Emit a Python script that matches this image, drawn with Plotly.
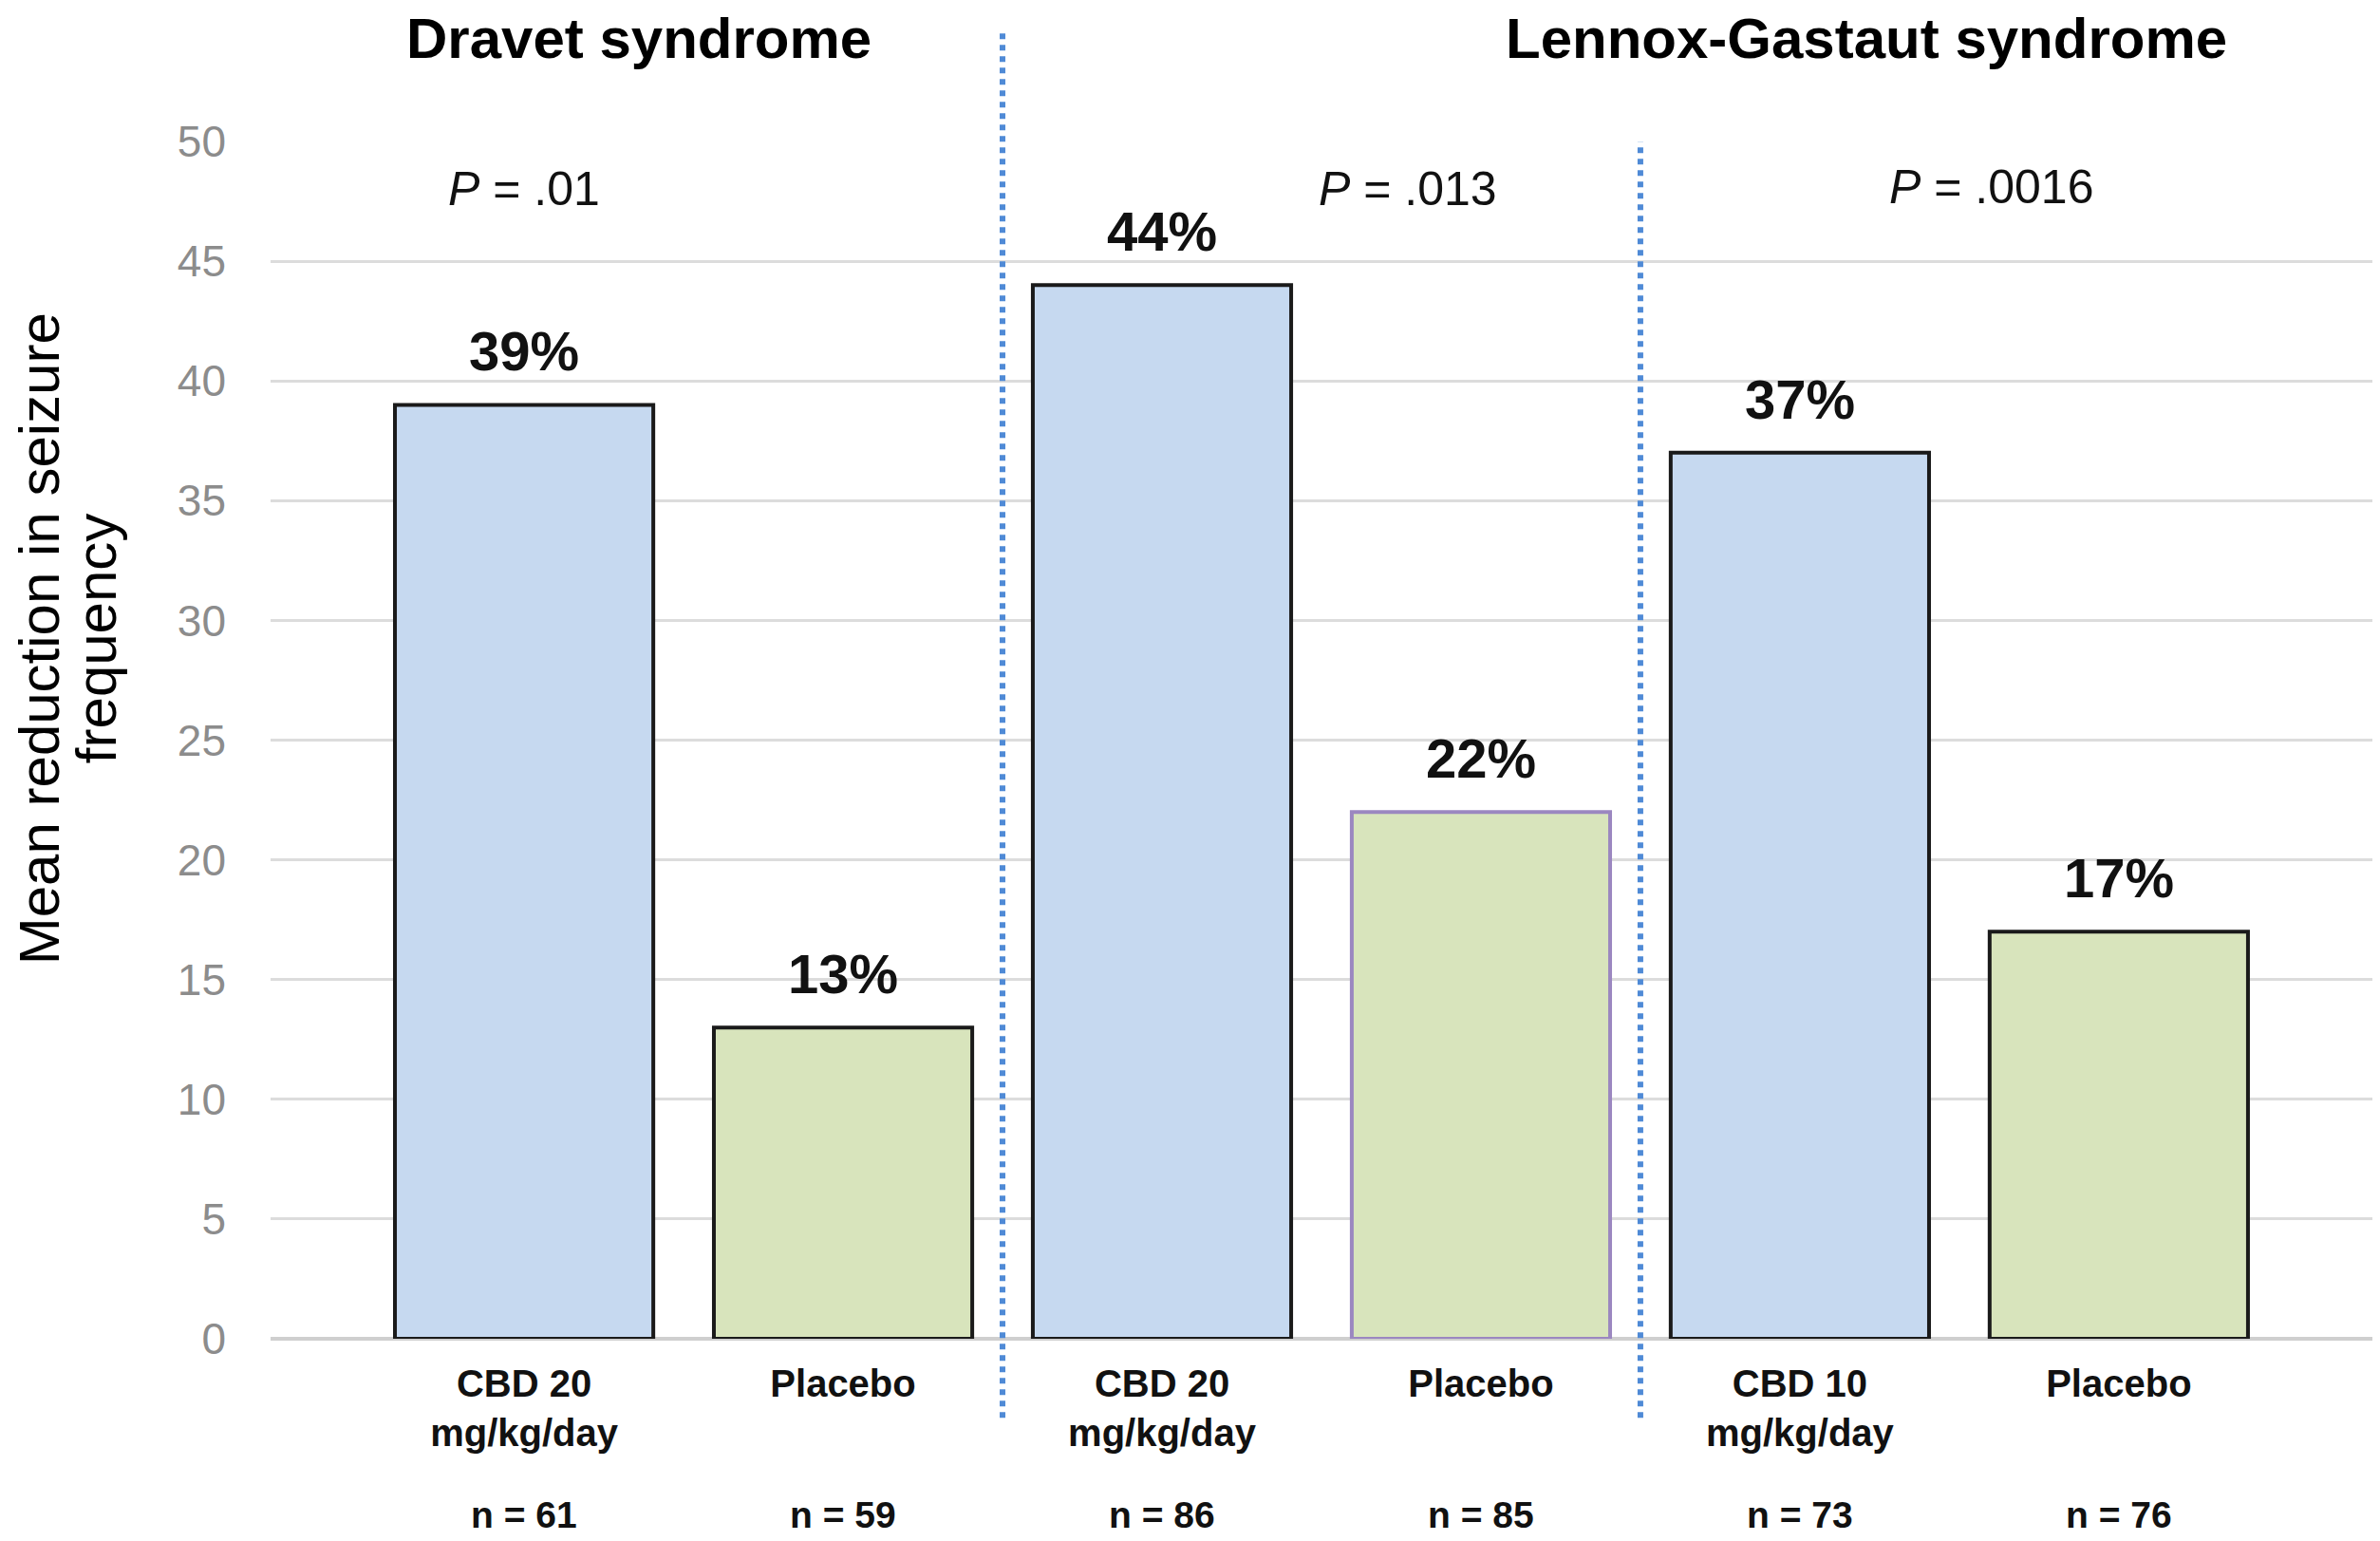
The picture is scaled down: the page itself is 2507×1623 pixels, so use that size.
import plotly.graph_objects as go

categories = ["CBD 20<br>mg/kg/day", "Placebo", "CBD 20<br>mg/kg/day", "Placebo", "CBD 10<br>mg/kg/day", "Placebo"]
values = [39, 13, 44, 22, 37, 17]
value_labels = ["39%", "13%", "44%", "22%", "37%", "17%"]
n_labels = ["n = 61", "n = 59", "n = 86", "n = 85", "n = 73", "n = 76"]
fill_colors = ["#c6d9f0", "#d8e4bc", "#c6d9f0", "#d8e4bc", "#c6d9f0", "#d8e4bc"]
line_colors = ["#1a1a1a", "#1a1a1a", "#1a1a1a", "#9b87c0", "#1a1a1a", "#1a1a1a"]
p_labels = ["<i>P</i> = .01", "<i>P</i> = .013", "<i>P</i> = .0016"]
p_x = [0.0, 2.77, 4.6]
p_y = [48, 48, 48.1]
group_titles = ["Dravet syndrome", "Lennox-Gastaut syndrome"]
group_title_x = [0.36, 4.21]
divider_x = [1.5, 3.5]
y_ticks = [0, 5, 10, 15, 20, 25, 30, 35, 40, 45, 50]
y_title_lines = ["Mean reduction in seizure", "frequency"]

x = list(range(len(categories)))
FONT = "Liberation Sans, Arial, sans-serif"

fig = go.Figure()
fig.add_trace(go.Bar(
    x=x, y=values,
    marker=dict(color=fill_colors, line=dict(color=line_colors, width=4)),
    width=0.81,
    hoverinfo="skip",
))

# value labels above bars
for xi, v, t in zip(x, values, value_labels):
    fig.add_annotation(x=xi, y=v, text=f"<b>{t}</b>", showarrow=False,
                       yanchor="bottom", yshift=22,
                       font=dict(family=FONT, size=58, color="#111111"))

# n labels below
for xi, t in zip(x, n_labels):
    fig.add_annotation(x=xi, y=0, yref="paper", text=f"<b>{t}</b>", showarrow=False,
                       yanchor="middle", yshift=-185,
                       font=dict(family=FONT, size=39, color="#111111"))

# P values
for xi, yi, t in zip(p_x, p_y, p_labels):
    fig.add_annotation(x=xi, y=yi, text=t, showarrow=False,
                       font=dict(family=FONT, size=50, color="#111111"))

# group titles
for xi, t in zip(group_title_x, group_titles):
    fig.add_annotation(x=xi, y=1.086, yref="paper", text=f"<b>{t}</b>", showarrow=False,
                       yanchor="middle",
                       font=dict(family=FONT, size=60, color="#000000"))

# dotted dividers
fig.add_shape(type="line", x0=divider_x[0], x1=divider_x[0], y0=-0.066, y1=1.095,
              xref="x", yref="paper", line=dict(color="#4f8ad6", width=6, dash="dot"))
fig.add_shape(type="line", x0=divider_x[1], x1=divider_x[1], y0=-0.066, y1=1.0,
              xref="x", yref="paper", line=dict(color="#4f8ad6", width=6, dash="dot"))

# y-axis title (two lines)
for xs, t in zip([-0.1100, -0.0830], y_title_lines):
    fig.add_annotation(x=xs, y=0.585, xref="paper", yref="paper",
                       text=t, showarrow=False,
                       textangle=-90, xanchor="center", yanchor="middle",
                       font=dict(family=FONT, size=60, color="#000000"))

fig.update_layout(
    width=2499, height=1615,
    margin=dict(l=277, r=3, t=141, b=213),
    plot_bgcolor="white", paper_bgcolor="white",
    showlegend=False,
    xaxis=dict(range=[-0.795, 5.81], tickmode="array", tickvals=x,
               ticktext=[f"<b>{c}</b>" for c in categories],
               tickfont=dict(family=FONT, size=40, color="#111111"),
               showgrid=False, zeroline=False, showline=False, ticks="",
               ticklabelstandoff=20),
    yaxis=dict(range=[0, 50], tickmode="array", tickvals=y_ticks,
               tickfont=dict(family="Liberation Sans Narrow, Arial Narrow, " + FONT, size=46, color="#8c8c8c"),
               showgrid=True, gridcolor="#dcdcdc", gridwidth=3,
               zeroline=True, zerolinecolor="#cfcfcf", zerolinewidth=4,
               showline=False, ticks="", ticklabelstandoff=46),
)

fig.write_html("out.html")
